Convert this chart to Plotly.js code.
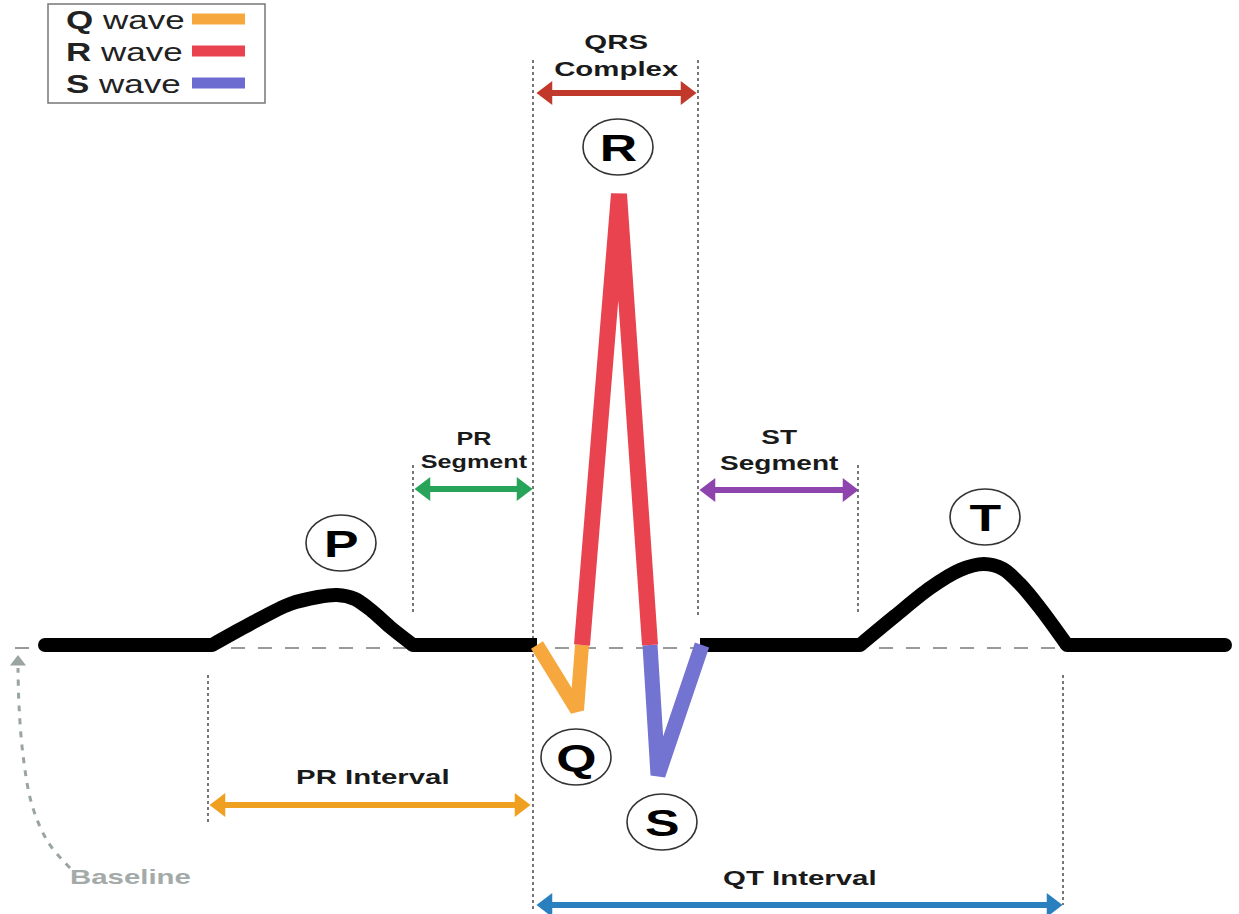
<!DOCTYPE html>
<html><head><meta charset="utf-8">
<script src="https://cdn.plot.ly/plotly-3.0.1.min.js"></script>
<style>html,body{margin:0;padding:0;background:#fff}#chart{width:1239px;height:914px}</style>
</head><body><div id="chart"></div>
<script>
// ECG trace (diagram units ~ pixels)
const flatX = [[45, 212], [413, 537], [700, 860], [1067, 1225]];
const flatY = [[645, 645], [645, 645], [645, 645], [645, 645]];
const pWaveX = [212, 250, 290, 318, 337, 355, 372, 390, 413];
const pWaveY = [645, 624, 604, 597, 595, 599, 611, 627, 645];
const tWaveX = [860, 895, 930, 960, 984, 1003, 1020, 1040, 1067];
const tWaveY = [645, 616, 588, 570, 564, 569, 584, 608, 645];
const jointX = [45, 212, 413, 860, 1067, 1225];
const jointY = [645, 645, 645, 645, 645, 645];
const qWaveX = [537, 577, 582];
const qWaveY = [645, 710, 645];
const rWaveX = [582, 619, 650];
const rWaveY = [645, 194, 645];
const sWaveX = [650, 658, 702];
const sWaveY = [645, 775, 645];
const baselineX = [15, 1070];
const baselineY = [648, 648];
// intervals / segments
const intervalNames = ["QRS<br>Complex", "PR<br>Segment", "ST<br>Segment", "PR Interval", "QT Interval"];
const intervalStart = [537, 415, 700, 210, 537];
const intervalEnd = [696, 532, 858, 530, 1062];
const intervalLevel = [93, 489, 490, 805, 905];
const intervalColors = ["#c0392b", "#27a35a", "#8e44ad", "#f0a020", "#2a7fbf"];
// dotted guide lines
const guideX = [208, 413, 533, 698, 858, 1063];
const guideTop = [675, 465, 60, 60, 465, 675];
const guideBottom = [822, 612, 912, 615, 615, 905];
// wave letter labels
const waveLetters = ["P", "Q", "R", "S", "T"];
const letterX = [341, 576, 618, 662, 985];
const letterY = [543, 757, 147, 822, 517];
// legend
const legendNames = ["Q", "R", "S"];
const legendColors = ["#f6a83e", "#e8434f", "#6c6cd0"];
// baseline pointer
const pointerX = [70, 48, 32, 23, 19, 18];
const pointerY = [868, 842, 805, 755, 705, 668];

const FONT = 'Liberation Sans, Arial, sans-serif';
const data = [];
data.push({x: baselineX, y: baselineY, mode: 'lines', line: {color: '#9a9a9a', width: 2, dash: '14px,13px'}, hoverinfo: 'skip'});
for (let i = 0; i < guideX.length; i++) {
  data.push({x: [guideX[i], guideX[i]], y: [guideTop[i], guideBottom[i]], mode: 'lines',
    line: {color: '#555', width: 1.6, dash: 'dot'}, hoverinfo: 'skip'});
}
for (let i = 0; i < flatX.length; i++) {
  data.push({x: flatX[i], y: flatY[i], mode: 'lines', line: {color: '#000', width: 14}, hoverinfo: 'skip'});
}
[[pWaveX, pWaveY], [tWaveX, tWaveY]].forEach(p => {
  data.push({x: p[0], y: p[1], mode: 'lines', line: {color: '#000', width: 14, shape: 'spline', smoothing: 0.9}, hoverinfo: 'skip'});
});
data.push({x: jointX, y: jointY, mode: 'markers', marker: {color: '#000', size: 14}, hoverinfo: 'skip'});
data.push({x: qWaveX, y: qWaveY, mode: 'lines', line: {color: legendColors[0], width: 14}, hoverinfo: 'skip'});
data.push({x: sWaveX, y: sWaveY, mode: 'lines', line: {color: '#7373d2', width: 15}, hoverinfo: 'skip'});
data.push({x: rWaveX, y: rWaveY, mode: 'lines', line: {color: '#e8434f', width: 16}, hoverinfo: 'skip'});
for (let i = 0; i < intervalStart.length; i++) {
  const a = intervalStart[i] + 10, b = intervalEnd[i] - 10;
  data.push({x: [a, b], y: [intervalLevel[i], intervalLevel[i]], mode: 'lines+markers',
    line: {color: intervalColors[i], width: 6},
    marker: {color: intervalColors[i], size: 21, symbol: ['triangle-left', 'triangle-right']}, hoverinfo: 'skip'});
}
data.push({x: pointerX, y: pointerY, mode: 'lines', line: {color: '#9aa5a2', width: 3, dash: '6px,7px', shape: 'spline'}, hoverinfo: 'skip'});
data.push({x: [18], y: [662], mode: 'markers', marker: {color: '#9aa5a2', size: 14, symbol: 'triangle-up'}, hoverinfo: 'skip'});
for (let i = 0; i < legendNames.length; i++) {
  data.push({x: [192, 245], y: [19 + 32 * i, 19 + 32 * i], mode: 'lines', line: {color: legendColors[i], width: 11}, hoverinfo: 'skip'});
}

const annotations = [];
const leftAnchored = [];
const labelY = [55, 450, 450, 776, 877];
const labelSize = [21, 18, 20, 21, 21];
for (let i = 0; i < intervalNames.length; i++) {
  annotations.push({x: (intervalStart[i] + intervalEnd[i]) / 2 + (i === 3 ? 3 : 0), y: labelY[i], xref: 'x', yref: 'y',
    text: '<b>' + intervalNames[i] + '</b>', showarrow: false,
    font: {family: FONT, size: labelSize[i], color: '#1a1a1a'}});
}
const shapes = [];
for (let i = 0; i < waveLetters.length; i++) {
  annotations.push({x: letterX[i], y: letterY[i] + 1, xref: 'x', yref: 'y', text: '<b>' + waveLetters[i] + '</b>', showarrow: false,
    font: {family: FONT, size: 37, color: '#000'}});
  shapes.push({type: 'circle', xref: 'x', yref: 'y', x0: letterX[i] - 35, x1: letterX[i] + 35, y0: letterY[i] - 28, y1: letterY[i] + 28,
    line: {color: '#333', width: 1.6}, layer: 'above'});
}
for (let i = 0; i < legendNames.length; i++) {
  leftAnchored.push(annotations.length);
  annotations.push({x: 64, y: 20 + 32 * i, xref: 'x', yref: 'y', xanchor: 'left', showarrow: false,
    text: '<b>' + legendNames[i] + '</b> wave', font: {family: FONT, size: 25, color: '#222'}});
}
leftAnchored.push(annotations.length);
annotations.push({x: 68, y: 876, xref: 'x', yref: 'y', xanchor: 'left', showarrow: false,
  text: '<b>Baseline</b>', font: {family: FONT, size: 21, color: '#a3aaa8'}});
shapes.push({type: 'rect', xref: 'x', yref: 'y', x0: 48, x1: 265, y0: 4, y1: 103, line: {color: '#777', width: 1.5}, layer: 'below'});

const layout = {
  width: 1239, height: 914, margin: {l: 0, r: 0, t: 0, b: 0},
  paper_bgcolor: '#fff', plot_bgcolor: '#fff', showlegend: false,
  xaxis: {range: [0, 1239], visible: false, fixedrange: true},
  yaxis: {range: [914, 0], visible: false, fixedrange: true},
  annotations: annotations, shapes: shapes
};
Plotly.newPlot('chart', data, layout, {staticPlot: true}).then(gd => {
  // the reference lettering is horizontally stretched
  gd.querySelectorAll('g.annotation').forEach(g => {
    const idx = +g.getAttribute('data-index');
    const t = g.querySelector('text.annotation-text');
    if (!t) return;
    t.style.transformBox = 'fill-box';
    t.style.transformOrigin = leftAnchored.includes(idx) ? 'left center' : 'center center';
    t.style.transform = 'scaleX(1.4)';
  });
});
</script></body></html>
